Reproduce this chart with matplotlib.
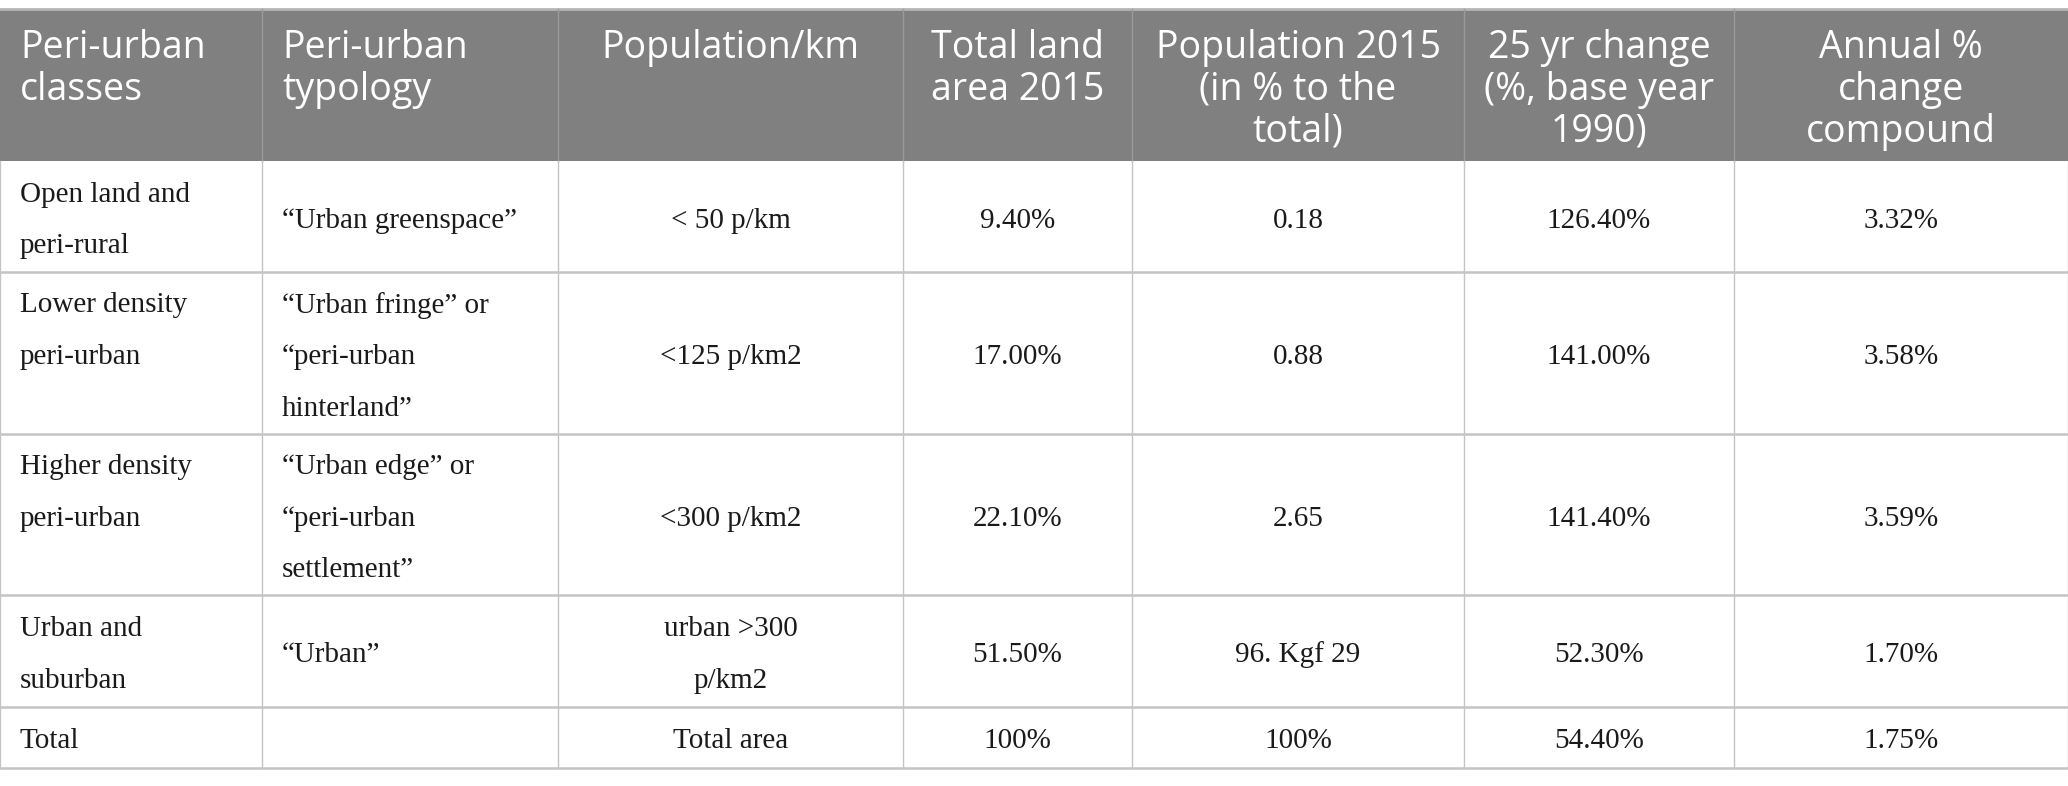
import matplotlib.pyplot as plt

headers = ["Peri-urban\nclasses", "Peri-urban\ntypology", "Population/km",
           "Total land\narea 2015", "Population 2015\n(in % to the\ntotal)",
           "25 yr change\n(%, base year\n1990)", "Annual %\nchange\ncompound"]
classes = ["Open land and\nperi-rural", "Lower density\nperi-urban",
           "Higher density\nperi-urban", "Urban and\nsuburban", "Total"]
typology = ["\u201cUrban greenspace\u201d",
            "\u201cUrban fringe\u201d or\n\u201cperi-urban\nhinterland\u201d",
            "\u201cUrban edge\u201d or\n\u201cperi-urban\nsettlement\u201d",
            "\u201cUrban\u201d", ""]
density = ["< 50 p/km", "<125 p/km2", "<300 p/km2", "urban >300\np/km2", "Total area"]
land_area = ["9.40%", "17.00%", "22.10%", "51.50%", "100%"]
pop_share = ["0.18", "0.88", "2.65", "96. Kgf 29", "100%"]
change_25yr = ["126.40%", "141.00%", "141.40%", "52.30%", "54.40%"]
annual = ["3.32%", "3.58%", "3.59%", "1.70%", "1.75%"]

columns = [classes, typology, density, land_area, pop_share, change_25yr, annual]

# layout in pixels
W, H = 2068, 786
col_x = [0, 262, 558, 903, 1132, 1464, 1734, 2068]
row_y = [9, 161, 272, 434, 595, 707, 768]
left_cols = [0, 1]

fig = plt.figure(figsize=(W / 100, H / 100), dpi=100)
ax = fig.add_axes([0, 0, 1, 1])
ax.set_xlim(0, W)
ax.set_ylim(H, 0)
ax.axis('off')

# header
ax.fill_between([col_x[0], col_x[-1]], row_y[0], row_y[1], color='#808080', lw=0)
ax.plot([col_x[0], col_x[-1]], [row_y[0], row_y[0]], color='#b5b5b5', lw=2)
for x in col_x[1:-1]:
    ax.plot([x, x], [row_y[0], row_y[1]], color='#9a9a9a', lw=1)
hkw = dict(va='top', color='white', family='Open Sans', fontsize=27, linespacing=1.13)
for j, h in enumerate(headers):
    if j in left_cols:
        ax.text(col_x[j] + 20, row_y[0] + 20, h, ha='left', **hkw)
    else:
        ax.text((col_x[j] + col_x[j + 1]) / 2, row_y[0] + 20, h, ha='center', **hkw)

# body lines
for y in row_y[2:]:
    ax.plot([col_x[0], col_x[-1]], [y, y], color='#c4c4c4', lw=1.8)
for x in col_x:
    ax.plot([x, x], [row_y[1], row_y[-1]], color='#c4c4c4', lw=1)

# body text; first column is top-aligned with the tallest cell of its row
bkw = dict(va='center', color='#1a1a1a', family='Liberation Serif', fontsize=21,
           linespacing=2.28)
for i in range(len(classes)):
    yc = (row_y[i + 1] + row_y[i + 2]) / 2 + 4
    nmax = max(col[i].count('\n') + 1 for col in columns)
    for j, col in enumerate(columns):
        val = col[i]
        if j == 0:
            val = val + '\n ' * (nmax - val.count('\n') - 1)
        if j in left_cols:
            ax.text(col_x[j] + 20, yc, val, ha='left', **bkw)
        else:
            ax.text((col_x[j] + col_x[j + 1]) / 2, yc, val, ha='center', **bkw)

fig.savefig('out.png', dpi=100)
